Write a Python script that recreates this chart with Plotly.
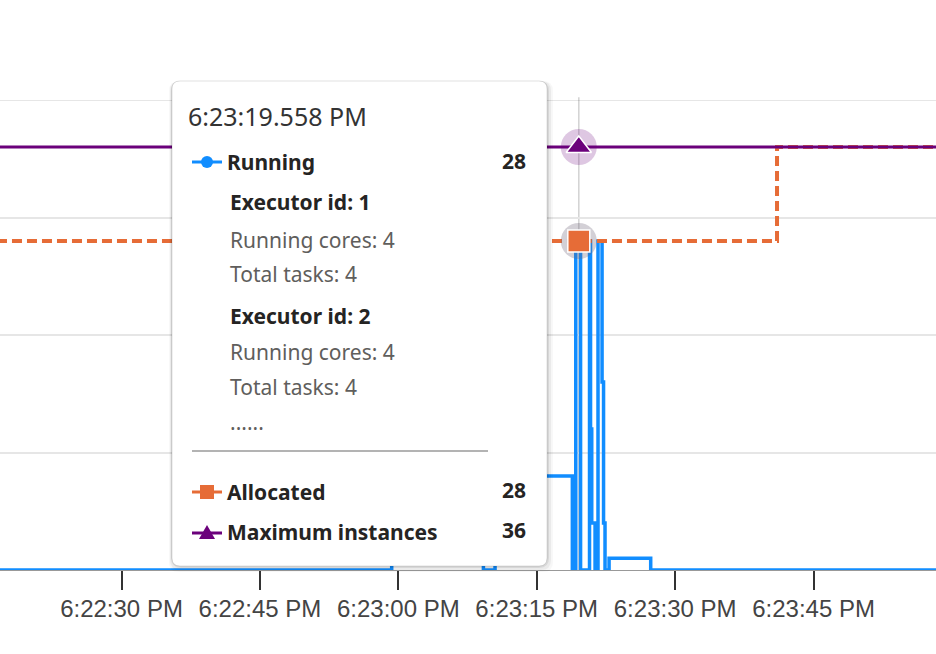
import plotly.graph_objects as go

day = "2023-06-01 "

# Running cores (step line)
run_times = ["18:22:10", "18:22:59.28", "18:23:09.22", "18:23:10.48", "18:23:18.86",
             "18:23:19.23", "18:23:19.75", "18:23:20.72", "18:23:20.83", "18:23:20.96",
             "18:23:21.32", "18:23:21.64", "18:23:22.08", "18:23:22.24", "18:23:22.40",
             "18:23:22.84", "18:23:27.35", "18:24:10"]
run_vals = [0, 4, 0, 8, 0, 28, 0, 28, 12, 4, 0, 28, 16, 4, 0, 1, 0, 0]

# Allocated instances
alloc_times = ["18:22:10", "18:23:41.04", "18:24:10"]
alloc_vals = [28, 36, 36]

# Maximum instances
max_times = ["18:22:10", "18:24:10"]
max_vals = [36, 36]

# hovered point
hover_time = "18:23:19.558"
hover_label = "6:23:19.558 PM"
hover_running = 28
hover_alloc = 28
hover_max = 36
executors = [(1, 4, 4), (2, 4, 4)]

x_range = ["18:22:16.83", "18:23:58.27"]

BLUE = "#118DFF"
ORANGE = "#E66C37"
PURPLE = "#6B007B"

W, H = 936, 654
TOP, BOTTOM = 100, 570


def px(x):
    return x / W


def py(y):
    return (BOTTOM - y) / (BOTTOM - TOP)


def rounded_box(x0, y0, x1, y1, r):
    pts = [("M", x0 + r, y0), ("L", x1 - r, y0), ("Q", x1, y0, x1, y0 + r),
           ("L", x1, y1 - r), ("Q", x1, y1, x1 - r, y1), ("L", x0 + r, y1),
           ("Q", x0, y1, x0, y1 - r), ("L", x0, y0 + r), ("Q", x0, y0, x0 + r, y0)]
    out = []
    for p in pts:
        cmd, coords = p[0], p[1:]
        xy = []
        for i in range(0, len(coords), 2):
            xy.append(f"{px(coords[i]):.5f},{py(coords[i + 1]):.5f}")
        out.append(cmd + " " + " ".join(xy))
    return " ".join(out) + " Z"


fig = go.Figure()

fig.add_trace(go.Scatter(x=[day + t for t in run_times], y=run_vals, mode="lines",
                         line=dict(color=BLUE, width=3.5, shape="hv"), name="Running"))
fig.add_trace(go.Scatter(x=[day + t for t in alloc_times], y=alloc_vals, mode="lines",
                         line=dict(color=ORANGE, width=4, shape="hv", dash="10px,5px"),
                         name="Allocated"))
fig.add_trace(go.Scatter(x=[day + t for t in max_times], y=max_vals, mode="lines",
                         line=dict(color=PURPLE, width=3), name="Maximum instances"))

# hover halos + markers
fig.add_trace(go.Scatter(x=[day + hover_time] * 2, y=[hover_max, hover_alloc], mode="markers",
                         marker=dict(size=36, color=["rgba(107,0,123,0.22)", "rgba(110,100,120,0.3)"]),
                         hoverinfo="skip"))
fig.add_trace(go.Scatter(x=[day + hover_time], y=[hover_alloc], mode="markers",
                         marker=dict(symbol="square", size=22, color=ORANGE,
                                     line=dict(color="white", width=1.5)), hoverinfo="skip"))
fig.add_trace(go.Scatter(x=[day + hover_time], y=[hover_max], mode="markers",
                         marker=dict(symbol="triangle-up", size=22, color=PURPLE,
                                     line=dict(color="white", width=1.5)), hoverinfo="skip"))

shapes = []
# top gridline (range edge)
shapes.append(dict(type="line", xref="paper", yref="y", x0=0, x1=1, y0=40, y1=40,
                   line=dict(color="#e6e6e6", width=2), layer="below"))
# crosshair
shapes.append(dict(type="line", xref="x", yref="paper", x0=day + hover_time, x1=day + hover_time,
                   y0=0, y1=1.006, line=dict(color="rgba(0,0,0,0.18)", width=1.5), layer="below"))

# tooltip shadow + box
for off, a in [(6, 0.03), (4, 0.05), (2, 0.08)]:
    shapes.append(dict(type="path", xref="paper", yref="paper",
                       path=rounded_box(172 - off / 2, 81, 547 + off, 566 + off, 10),
                       fillcolor=f"rgba(0,0,0,{a})", line=dict(width=0), layer="above"))
shapes.append(dict(type="path", xref="paper", yref="paper",
                   path=rounded_box(172, 81, 547, 566, 8),
                   fillcolor="white", line=dict(color="rgba(0,0,0,0.12)", width=1), layer="above"))

# legend glyphs inside tooltip
def glyph_line(y, color):
    shapes.append(dict(type="line", xref="paper", yref="paper", x0=px(192), x1=px(222),
                       y0=py(y), y1=py(y), line=dict(color=color, width=3), layer="above"))

glyph_line(162, BLUE)
shapes.append(dict(type="circle", xref="paper", yref="paper", x0=px(201), x1=px(213),
                   y0=py(168), y1=py(156), fillcolor=BLUE, line=dict(width=0), layer="above"))
glyph_line(492, ORANGE)
shapes.append(dict(type="rect", xref="paper", yref="paper", x0=px(200), x1=px(214),
                   y0=py(499), y1=py(485), fillcolor=ORANGE, line=dict(width=0), layer="above"))
glyph_line(533, PURPLE)
shapes.append(dict(type="path", xref="paper", yref="paper",
                   path=f"M {px(199):.5f},{py(539):.5f} L {px(215):.5f},{py(539):.5f} "
                        f"L {px(207):.5f},{py(525):.5f} Z",
                   fillcolor=PURPLE, line=dict(width=0), layer="above"))
# separator
shapes.append(dict(type="line", xref="paper", yref="paper", x0=px(192), x1=px(488),
                   y0=py(451), y1=py(451), line=dict(color="#9a9a9a", width=1.5), layer="above"))

FONT = "Noto Sans"
DARK = "#252423"
GREY = "#605E5C"
annotations = []


def label(x, y, text, size=21, color=DARK, anchor="left"):
    annotations.append(dict(x=px(x), y=py(y), xref="paper", yref="paper", text=text,
                            showarrow=False, xanchor=anchor, yanchor="middle",
                            font=dict(family=FONT, size=size, color=color)))


label(186, 116, hover_label, size=25, color="#333333")
label(225, 162, "<b>Running</b>")
label(528, 161, f"<b>{hover_running}</b>", anchor="right")
row_y = [(202, 240, 274), (316, 352, 387)]
for (eid, cores, tasks), (y1, y2, y3) in zip(executors, row_y):
    label(228, y1, f"<b>Executor id: {eid}</b>")
    label(228, y2, f"Running cores: {cores}", color=GREY)
    label(228, y3, f"Total tasks: {tasks}", color=GREY)
label(228, 422, "......", color=GREY)
label(225, 492, "<b>Allocated</b>")
label(528, 490, f"<b>{hover_alloc}</b>", anchor="right")
label(225, 532, "<b>Maximum instances</b>")
label(528, 530, f"<b>{hover_max}</b>", anchor="right")

fig.update_layout(
    width=W, height=H,
    margin=dict(l=0, r=0, t=TOP, b=H - BOTTOM),
    plot_bgcolor="white", paper_bgcolor="white",
    showlegend=False,
    shapes=shapes,
    annotations=annotations,
    xaxis=dict(type="date", range=[day + x_range[0], day + x_range[1]],
               tick0=day + "18:22:00", dtick=15000, tickformat="%-I:%M:%S %p",
               ticks="outside", ticklen=19, tickwidth=1.5, tickcolor="#333333",
               showgrid=False, showline=True, linecolor="#999999", linewidth=1,
               tickfont=dict(family="Liberation Sans", size=24, color="#444444"),
               ticklabelstandoff=-2, zeroline=False),
    yaxis=dict(range=[0, 40], dtick=10, showgrid=True, gridcolor="#e6e6e6", gridwidth=2,
               showticklabels=False, zeroline=False, showline=False, ticks=""),
)

fig.write_html("out.html", config={"displayModeBar": False},
               post_script="document.body.style.margin='0';")
